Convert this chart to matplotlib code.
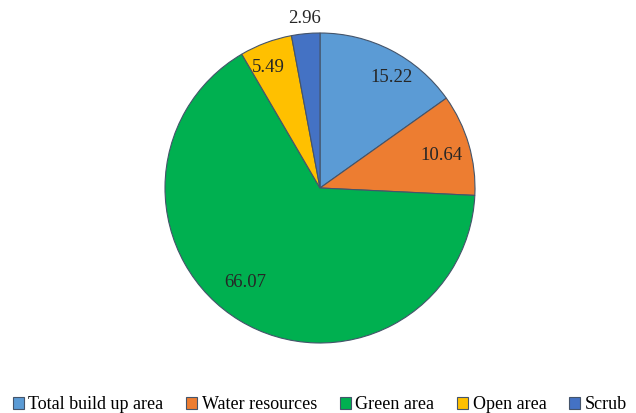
import matplotlib.pyplot as plt
import numpy as np

# DATA
categories = ['Total build up area', 'Water resources', 'Green area', 'Open area', 'Scrub']
values = [15.22, 10.64, 66.07, 5.49, 2.96]
colors = ['#5B9BD5', '#ED7D31', '#00B050', '#FFC000', '#4472C4']

plt.rcParams['font.family'] = ['Liberation Serif', 'DejaVu Serif']

fig = plt.figure(figsize=(6.36, 4.13), dpi=100)
# pie axes: centre (320,188) px, radius ~155 px
ax = fig.add_axes([(320 - 155) / 636, 1 - (188 + 155) / 413, 310 / 636, 310 / 413])

wedges, _ = ax.pie(values, colors=colors, startangle=90, counterclock=False,
                   wedgeprops=dict(edgecolor='#44546A', linewidth=0.8))
ax.set_xlim(-1, 1)
ax.set_ylim(-1, 1)
ax.set_aspect('equal')

# LABELS (distance from centre, angle shift from wedge middle)
dists = [0.85, 0.81, 0.78, 0.845, 1.10]
shifts = [-5.7, -1.5, -7.0, 2.9, 0.0]
for w, v, d, s in zip(wedges, values, dists, shifts):
    ang = np.deg2rad((w.theta1 + w.theta2) / 2 + s)
    ax.text(d * np.cos(ang), d * np.sin(ang), f'{v:.2f}', ha='center', va='center',
            fontsize=13.5, color='#262626')

fig.legend(wedges, categories, loc='lower center', ncol=5, frameon=False,
           fontsize=13, bbox_to_anchor=(0.503, -0.04), handlelength=0.6, handleheight=0.6,
           handletextpad=0.25, columnspacing=1.27)

fig.savefig('out.png', dpi=100)
